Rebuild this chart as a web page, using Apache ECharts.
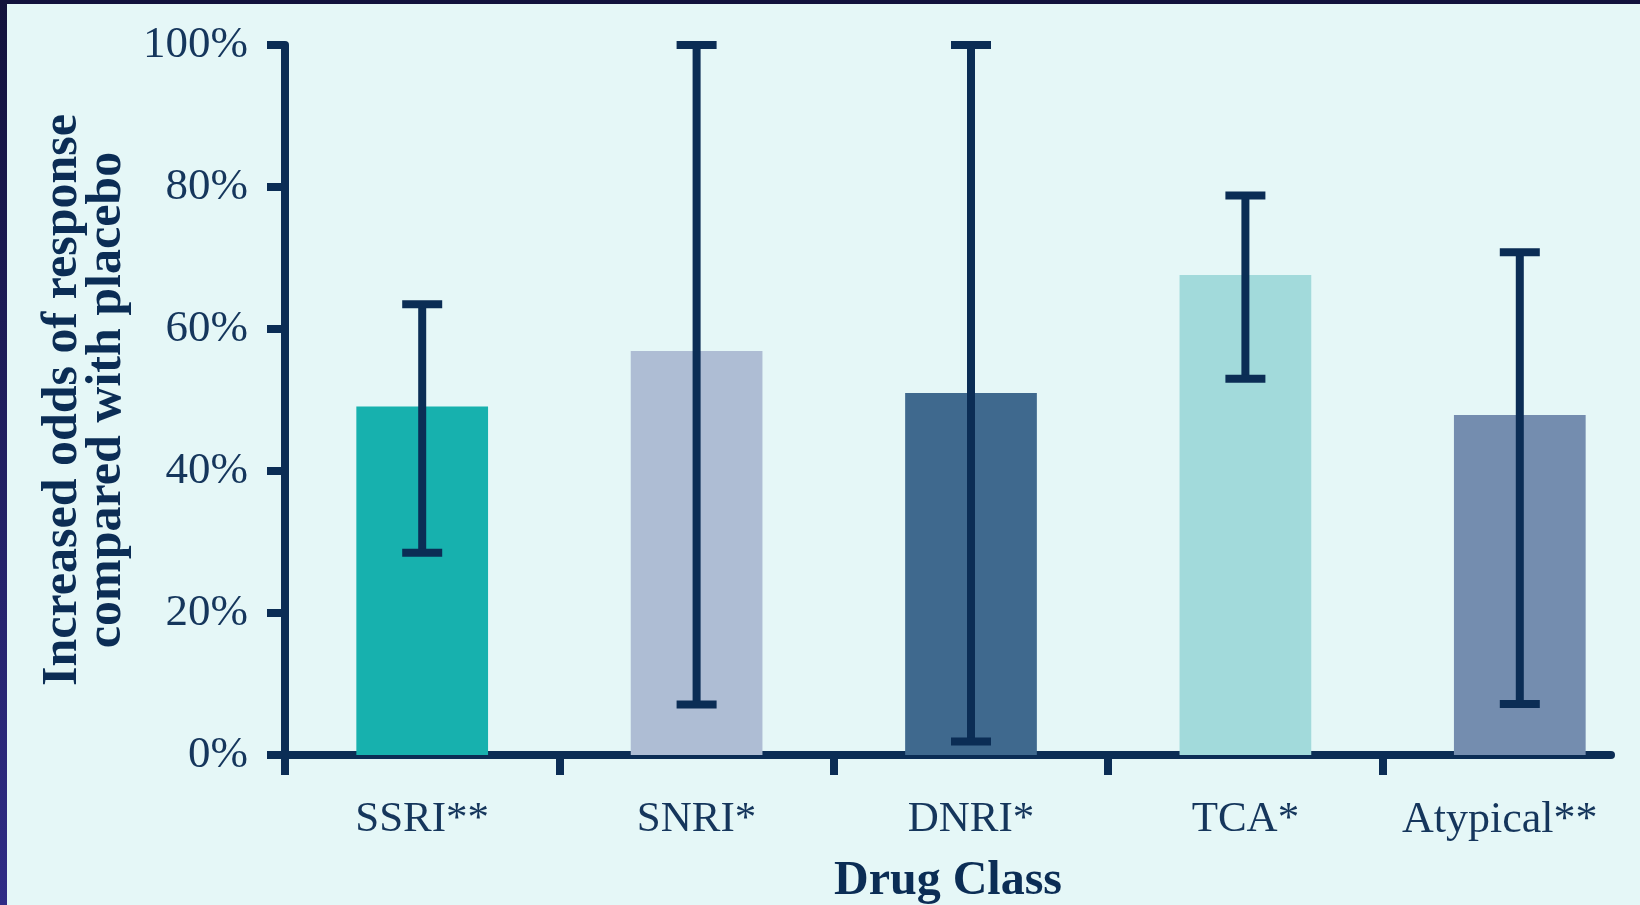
<!DOCTYPE html>
<html>
<head>
<meta charset="utf-8">
<script src="https://cdn.jsdelivr.net/npm/echarts@6/dist/echarts.min.js"></script>
<style>
  html, body { margin: 0; padding: 0; width: 1640px; height: 905px; overflow: hidden; }
  #frame { position: absolute; left: 0; top: 0; width: 1640px; height: 905px; background: linear-gradient(#12123c, #2f2c86); }
  #panel { position: absolute; left: 7px; top: 4px; right: 0; bottom: 0; background: #e5f7f7; }
  #chart { position: absolute; left: 0; top: 0; width: 1640px; height: 905px; }
</style>
</head>
<body>
<div id="frame"></div>
<div id="panel"></div>
<div id="chart"></div>
<script>
// ---- data ----
const categories = ['SSRI**', 'SNRI*', 'DNRI*', 'TCA*', 'Atypical**'];
const responseValues = [49.1, 56.9, 51.0, 67.6, 47.9];
const ciLow = [28.5, 7.1, 1.9, 53.0, 7.2];
const ciHigh = [63.5, 100, 100, 78.8, 70.8];
const barColors = ['#17b1ae', '#aebdd4', '#3f698e', '#a2dadb', '#748daf'];
const yTicks = { min: 0, max: 100, interval: 20 };
const xAxisTitle = 'Drug Class';
const yAxisTitle = 'Increased odds of response\ncompared with placebo';

const navy = '#0b2d55';
const textColor = '#15365c';

const chart = echarts.init(document.getElementById('chart'), null, { renderer: 'canvas' });

const errorData = categories.map((c, i) => [i, ciLow[i], ciHigh[i]]);
const lastIndex = categories.length - 1;

chart.setOption({
  backgroundColor: 'transparent',
  animation: false,
  grid: [
    { left: 285, width: 1372, top: 45, bottom: 150, containLabel: false, outerBoundsMode: 'none' },
    { left: 285, right: 29, top: 45, bottom: 150, containLabel: false, outerBoundsMode: 'none' }
  ],
  xAxis: [
    {
      type: 'category', gridIndex: 0, data: categories,
      axisLine: { show: false },
      axisTick: { show: true, interval: 0, length: 20, lineStyle: { color: navy, width: 8 } },
      axisLabel: {
        interval: 0, hideOverlap: false,
        color: textColor, fontFamily: 'Liberation Serif', fontSize: 43, margin: 43,
        formatter: function (v, i) { return i === lastIndex ? '{shift|' + v + '}' : v; },
        rich: { shift: { color: textColor, fontFamily: 'Liberation Serif', fontSize: 44, padding: [0, 40, 0, 0] } }
      },
      splitLine: { show: false }
    },
    {
      type: 'value', gridIndex: 1, min: 0, max: 1,
      axisLine: { show: true, lineStyle: { color: navy, width: 8 } },
      axisTick: { show: false }, axisLabel: { show: false }, splitLine: { show: false },
      name: xAxisTitle, nameLocation: 'middle', nameGap: 103,
      nameTextStyle: { color: navy, fontFamily: 'Liberation Serif', fontWeight: 'bold', fontSize: 48 }
    }
  ],
  yAxis: [
    {
      type: 'value', gridIndex: 0, min: yTicks.min, max: yTicks.max, interval: yTicks.interval,
      axisLine: { show: true, lineStyle: { color: navy, width: 8 } },
      axisTick: { show: true, length: 18, lineStyle: { color: navy, width: 8 } },
      axisLabel: { color: textColor, fontFamily: 'Liberation Serif', fontSize: 45, margin: 37, formatter: '{value}%' },
      splitLine: { show: false },
      name: yAxisTitle, nameLocation: 'middle', nameGap: 146, nameRotate: 90,
      nameTextStyle: { color: navy, fontFamily: 'Liberation Serif', fontWeight: 'bold', fontSize: 50, lineHeight: 44, align: 'center' }
    },
    { type: 'value', gridIndex: 1, min: 0, max: 1, show: false }
  ],
  series: [
    {
      type: 'bar', xAxisIndex: 0, yAxisIndex: 0, barWidth: '48%',
      data: responseValues.map((v, i) => ({ value: v, itemStyle: { color: barColors[i] } })),
      z: 2
    },
    {
      type: 'custom', xAxisIndex: 0, yAxisIndex: 0, z: 5,
      data: errorData,
      renderItem: function (params, api) {
        const idx = api.value(0);
        const lo = api.coord([idx, api.value(1)]);
        const hi = api.coord([idx, api.value(2)]);
        const half = 20;
        const style = { stroke: navy, lineWidth: 8, fill: null };
        return {
          type: 'group',
          children: [
            { type: 'line', shape: { x1: lo[0], y1: lo[1], x2: hi[0], y2: hi[1] }, style: style },
            { type: 'line', shape: { x1: hi[0] - half, y1: hi[1], x2: hi[0] + half, y2: hi[1] }, style: style },
            { type: 'line', shape: { x1: lo[0] - half, y1: lo[1], x2: lo[0] + half, y2: lo[1] }, style: style }
          ]
        };
      }
    }
  ]
});
</script>
</body>
</html>
